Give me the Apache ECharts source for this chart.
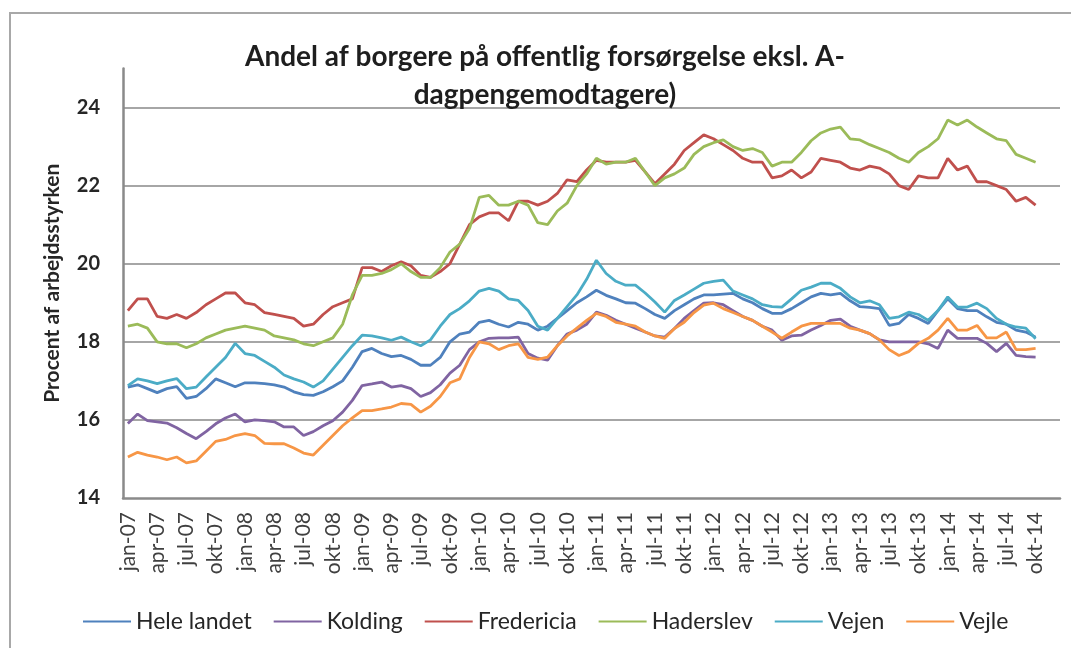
<!DOCTYPE html>
<html>
<head>
<meta charset="utf-8">
<script src="https://cdn.jsdelivr.net/npm/echarts@6/dist/echarts.min.js"></script>
<style>
  html, body { margin: 0; padding: 0; background: #fff; }
  #chart { width: 1071px; height: 648px; }
</style>
</head>
<body>
<div id="chart"></div>
<script>
// måneder jan-07 .. dec-14, data slutter okt-14
const years = ['07', '08', '09', '10', '11', '12', '13', '14'];
const months = ['jan', 'feb', 'mar', 'apr', 'maj', 'jun', 'jul', 'aug', 'sep', 'okt', 'nov', 'dec'];
const yTicks = [14, 16, 18, 20, 22, 24];

const heleLandet = [
  16.84, 16.9, 16.8, 16.7, 16.8, 16.85, 16.55, 16.6, 16.8, 17.05, 16.95, 16.85,
  16.95, 16.95, 16.93, 16.9, 16.84, 16.72, 16.65, 16.63, 16.72, 16.85, 17.0, 17.35,
  17.75, 17.83, 17.7, 17.62, 17.65, 17.55, 17.4, 17.4, 17.6, 18.0, 18.2, 18.25,
  18.5, 18.55, 18.45, 18.38, 18.5, 18.45, 18.3, 18.4, 18.6, 18.8, 19.0, 19.15,
  19.32, 19.19, 19.1, 19.0, 18.99, 18.85, 18.7, 18.6, 18.8, 18.95, 19.1, 19.2,
  19.2, 19.22, 19.24, 19.1, 19.0, 18.85, 18.73, 18.73, 18.85, 19.0, 19.15, 19.24,
  19.2, 19.24, 19.05, 18.9, 18.88, 18.85, 18.42, 18.47, 18.7, 18.6, 18.47, 18.8,
  19.1, 18.85, 18.8, 18.8, 18.64, 18.5, 18.45, 18.3, 18.25, 18.12
];
const kolding = [
  15.91, 16.15, 15.98, 15.95, 15.92, 15.8, 15.65, 15.52, 15.7, 15.9, 16.05, 16.15,
  15.95, 16.0, 15.98, 15.95, 15.82, 15.82, 15.6, 15.7, 15.85, 15.98, 16.2, 16.5,
  16.88, 16.92, 16.97, 16.84, 16.88, 16.8, 16.6, 16.7, 16.9, 17.2, 17.4, 17.8,
  18.0, 18.09, 18.1, 18.1, 18.12, 17.7, 17.58, 17.53, 17.9, 18.2, 18.3, 18.45,
  18.76, 18.68, 18.55, 18.45, 18.35, 18.25, 18.15, 18.12, 18.34, 18.6, 18.8, 18.99,
  19.0, 18.95, 18.8, 18.65, 18.55, 18.4, 18.3, 18.04, 18.15, 18.17, 18.3, 18.42,
  18.55, 18.58, 18.4, 18.3, 18.21, 18.05, 18.0, 18.0, 18.0, 18.0, 17.95, 17.83,
  18.3, 18.09, 18.09, 18.09, 17.96, 17.75, 17.96, 17.65, 17.62, 17.61
];
const fredericia = [
  18.8, 19.1, 19.1, 18.65, 18.6, 18.7, 18.6, 18.75, 18.95, 19.1, 19.25, 19.25,
  19.0, 18.95, 18.75, 18.7, 18.65, 18.6, 18.4, 18.45, 18.7, 18.9, 19.0, 19.1,
  19.9, 19.9, 19.8, 19.95, 20.05, 19.95, 19.7, 19.65, 19.8, 20.0, 20.5, 21.0,
  21.2, 21.3, 21.3, 21.1, 21.6, 21.6, 21.5, 21.6, 21.8, 22.15, 22.1, 22.4,
  22.65, 22.6, 22.6, 22.6, 22.65, 22.35, 22.05, 22.3, 22.55, 22.9, 23.1, 23.3,
  23.2, 23.05, 22.9, 22.7, 22.6, 22.6, 22.2, 22.25, 22.4, 22.2, 22.35, 22.7,
  22.65, 22.6, 22.45, 22.4, 22.5, 22.45, 22.3, 22.0, 21.9, 22.25, 22.2, 22.2,
  22.7, 22.4, 22.5, 22.1, 22.1, 22.0, 21.9, 21.6, 21.7, 21.5
];
const haderslev = [
  18.4, 18.45, 18.35, 18.0, 17.95, 17.95, 17.85, 17.95, 18.1, 18.2, 18.3, 18.35,
  18.4, 18.35, 18.3, 18.15, 18.1, 18.05, 17.95, 17.9, 18.0, 18.1, 18.45, 19.2,
  19.7, 19.7, 19.75, 19.85, 20.0, 19.8, 19.65, 19.65, 19.9, 20.3, 20.5, 20.9,
  21.7, 21.75, 21.5, 21.5, 21.6, 21.5, 21.05, 21.0, 21.35, 21.55, 22.0, 22.3,
  22.7, 22.55, 22.6, 22.6, 22.7, 22.35, 22.0, 22.2, 22.3, 22.45, 22.8, 23.0,
  23.1, 23.17, 23.0, 22.9, 22.95, 22.85, 22.5, 22.6, 22.6, 22.85, 23.15, 23.35,
  23.45, 23.5, 23.2, 23.17, 23.05, 22.95, 22.85, 22.7, 22.6, 22.85, 23.0, 23.2,
  23.68, 23.55, 23.68, 23.5, 23.35, 23.2, 23.15, 22.8, 22.7, 22.6
];
const vejen = [
  16.88, 17.05, 17.0, 16.93, 17.0, 17.06, 16.8, 16.84, 17.1, 17.35, 17.6, 17.96,
  17.7, 17.65, 17.5, 17.35, 17.15, 17.05, 16.97, 16.84, 17.0, 17.3, 17.6, 17.9,
  18.17, 18.15, 18.1, 18.04, 18.12, 18.0, 17.9, 18.05, 18.4, 18.7, 18.85, 19.05,
  19.3, 19.37, 19.3, 19.1, 19.06, 18.8, 18.4, 18.3, 18.6, 18.9, 19.2, 19.6,
  20.09, 19.75, 19.55, 19.45, 19.45, 19.25, 19.02, 18.76, 19.06, 19.2, 19.35, 19.5,
  19.55, 19.58, 19.3, 19.2, 19.1, 18.95, 18.9, 18.89, 19.1, 19.32, 19.4, 19.5,
  19.5, 19.37, 19.15, 19.0, 19.05, 18.95, 18.6, 18.64, 18.76, 18.7, 18.55, 18.8,
  19.15, 18.89, 18.89, 18.99, 18.85, 18.6, 18.45, 18.38, 18.35, 18.08
];
const vejle = [
  15.05, 15.17, 15.1, 15.05, 14.98, 15.05, 14.9, 14.95, 15.2, 15.45, 15.5, 15.6,
  15.65, 15.6, 15.4, 15.39, 15.39, 15.28, 15.15, 15.1, 15.35, 15.6, 15.85, 16.05,
  16.24, 16.24, 16.28, 16.33, 16.42, 16.4, 16.2, 16.35, 16.6, 16.95, 17.05, 17.6,
  18.0, 17.95, 17.8, 17.9, 17.95, 17.6, 17.55, 17.61, 17.9, 18.15, 18.35, 18.55,
  18.73, 18.65, 18.5, 18.45, 18.4, 18.25, 18.15, 18.09, 18.34, 18.5, 18.75, 18.94,
  18.99, 18.85, 18.75, 18.65, 18.55, 18.4, 18.25, 18.09, 18.25, 18.4, 18.47, 18.47,
  18.47, 18.47, 18.35, 18.3, 18.21, 18.05, 17.8, 17.65, 17.75, 17.96, 18.09, 18.3,
  18.6, 18.3, 18.3, 18.42, 18.1, 18.1, 18.25, 17.8, 17.8, 17.83
];

const categories = [];
years.forEach(y => months.forEach(m => categories.push(m + '-' + y)));

const names = ['Hele landet', 'Kolding', 'Fredericia', 'Haderslev', 'Vejen', 'Vejle'];
const values = [heleLandet, kolding, fredericia, haderslev, vejen, vejle];
const colors = ['#4f81bd', '#8064a2', '#c0504d', '#9bbb59', '#4bacc6', '#f79646'];

const chart = echarts.init(document.getElementById('chart'));
chart.setOption({
  animation: false,
  backgroundColor: '#fff',
  color: colors,
  textStyle: { fontFamily: 'Lato' },
  graphic: [{
    type: 'rect',
    shape: { x: 10, y: 13, width: 1100, height: 700 },
    style: { fill: 'none', stroke: '#a8a8a8', lineWidth: 2 },
    silent: true
  }],
  title: {
    text: 'Andel af borgere på offentlig forsørgelse eksl. A-\ndagpengemodtagere)',
    left: 540,
    top: 33,
    textAlign: 'center',
    textStyle: { fontSize: 28, fontWeight: 'bold', color: '#1e1e1e', lineHeight: 38, fontFamily: 'Lato' }
  },
  legend: {
    data: names,
    left: 78,
    top: 605,
    itemWidth: 48,
    itemHeight: 14,
    itemGap: 22,
    textStyle: { fontSize: 23, color: '#262626' },
    icon: 'path://M0,6 L48,6 L48,8 L0,8 Z'
  },
  grid: { left: 123, right: 11, top: 68.5, bottom: 150 },
  xAxis: {
    type: 'category',
    data: categories,
    boundaryGap: true,
    axisLine: { lineStyle: { color: '#8a8a8a', width: 2.5 } },
    axisTick: { show: false },
    axisLabel: { interval: 2, rotate: 90, fontSize: 21, color: '#404040', margin: 14 },
    splitLine: { show: false }
  },
  yAxis: {
    type: 'value',
    min: 14,
    max: 25,
    interval: 2,
    name: 'Procent af arbejdsstyrken',
    nameLocation: 'middle',
    nameRotate: 90,
    nameGap: 60,
    nameTextStyle: { fontSize: 21, fontWeight: 'bold', color: '#262626' },
    axisLine: { show: true, lineStyle: { color: '#8a8a8a', width: 2.5 } },
    axisTick: { show: false },
    axisLabel: {
      fontSize: 20, fontWeight: 'bold', color: '#262626', margin: 23,
      showMaxLabel: false,
      formatter: v => (yTicks.indexOf(v) >= 0 ? String(v) : '')
    },
    splitLine: { show: true, showMinLine: false, showMaxLine: false, lineStyle: { color: '#a6a6a6', width: 2 } }
  },
  series: names.map((n, i) => ({
    name: n,
    type: 'line',
    data: values[i],
    symbol: 'none',
    smooth: false,
    lineStyle: { width: 2.8, color: colors[i] }
  }))
});
</script>
</body>
</html>
